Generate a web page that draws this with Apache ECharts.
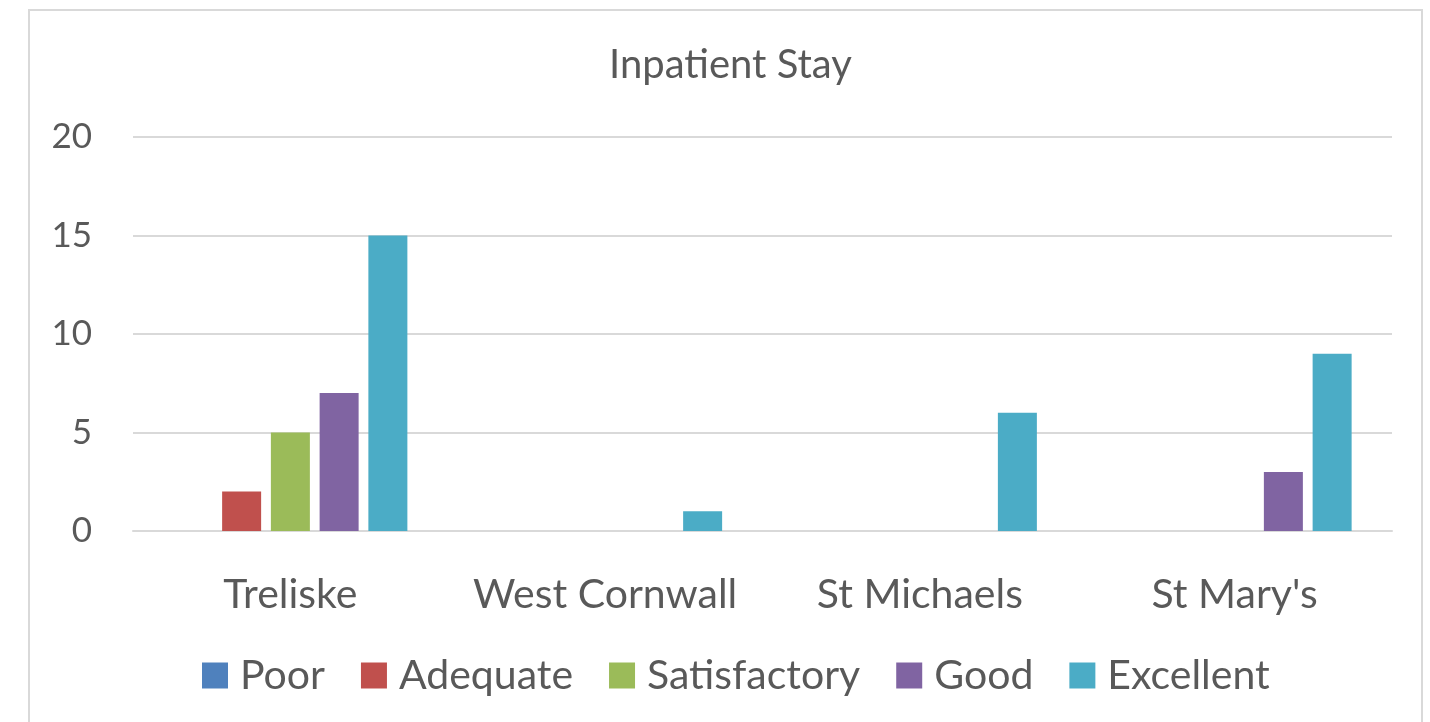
<!DOCTYPE html>
<html>
<head>
<meta charset="utf-8">
<script src="https://cdn.jsdelivr.net/npm/echarts@6/dist/echarts.min.js"></script>
<style>
    html, body { margin: 0; padding: 0; background: #fff; }
    #chart { width: 1430px; height: 722px; }
</style>
</head>
<body>
<div id="chart"></div>
<script>
var hospitals = ['Treliske', 'West Cornwall', 'St Michaels', "St Mary's"];
var ratings = ['Poor', 'Adequate', 'Satisfactory', 'Good', 'Excellent'];
var colors = ['#4F81BD', '#C0504D', '#9BBB59', '#8064A2', '#4BACC6'];

var poor = [0, 0, 0, 0];
var adequate = [2, 0, 0, 0];
var satisfactory = [5, 0, 0, 0];
var good = [7, 0, 0, 3];
var excellent = [15, 1, 6, 9];

var yTicks = [0, 5, 10, 15, 20];

var values = [poor, adequate, satisfactory, good, excellent];

// Initialize chart
// ------------------------------

var chart = echarts.init(document.getElementById('chart'));

var textColor = '#595959';
var fontName = 'Lato';

var series = [];
for (var i = 0; i < ratings.length; i++) {
    series.push({
        name: ratings[i],
        type: 'bar',
        data: values[i],
        barWidth: 39,
        barGap: '25%',
        itemStyle: { color: colors[i] }
    });
}

var options = {
    animation: false,
    color: colors,
    textStyle: { fontFamily: fontName },

    // Add title
    title: {
        text: 'Inpatient Stay',
        left: 604,
        top: 40,
        textStyle: { fontFamily: fontName, fontSize: 40, fontWeight: 'normal', color: textColor }
    },

    // Add legend
    legend: {
        data: ratings,
        bottom: 21,
        left: 197,
        itemWidth: 26,
        itemHeight: 26,
        itemGap: 36,
        icon: 'rect',
        formatter: '{t|{name}}',
        textStyle: {
            fontFamily: fontName, fontSize: 41, color: textColor,
            rich: { t: { fontFamily: fontName, fontSize: 41, color: textColor, padding: [0, 0, 0, 7] } }
        }
    },

    grid: {
        left: 133,
        right: 38,
        top: 137,
        bottom: 191,
        containLabel: false
    },

    xAxis: {
        type: 'category',
        data: hospitals,
        axisLine: { lineStyle: { color: '#d9d9d9', width: 2 } },
        axisTick: { show: false },
        axisLabel: { interval: 0, fontFamily: fontName, fontSize: 41, color: textColor, margin: 43 }
    },

    yAxis: {
        type: 'value',
        min: yTicks[0],
        max: yTicks[yTicks.length - 1],
        interval: 5,
        axisLine: { show: false },
        axisTick: { show: false },
        axisLabel: { fontFamily: fontName, fontSize: 35, color: textColor, margin: 41 },
        splitLine: { lineStyle: { color: '#d9d9d9', width: 2 } }
    },

    // Chart border
    graphic: [{
        type: 'rect',
        shape: { x: 29, y: 10, width: 1393, height: 730 },
        style: { fill: null, stroke: '#d9d9d9', lineWidth: 2 },
        silent: true
    }],

    series: series
};

chart.setOption(options);
</script>
</body>
</html>
